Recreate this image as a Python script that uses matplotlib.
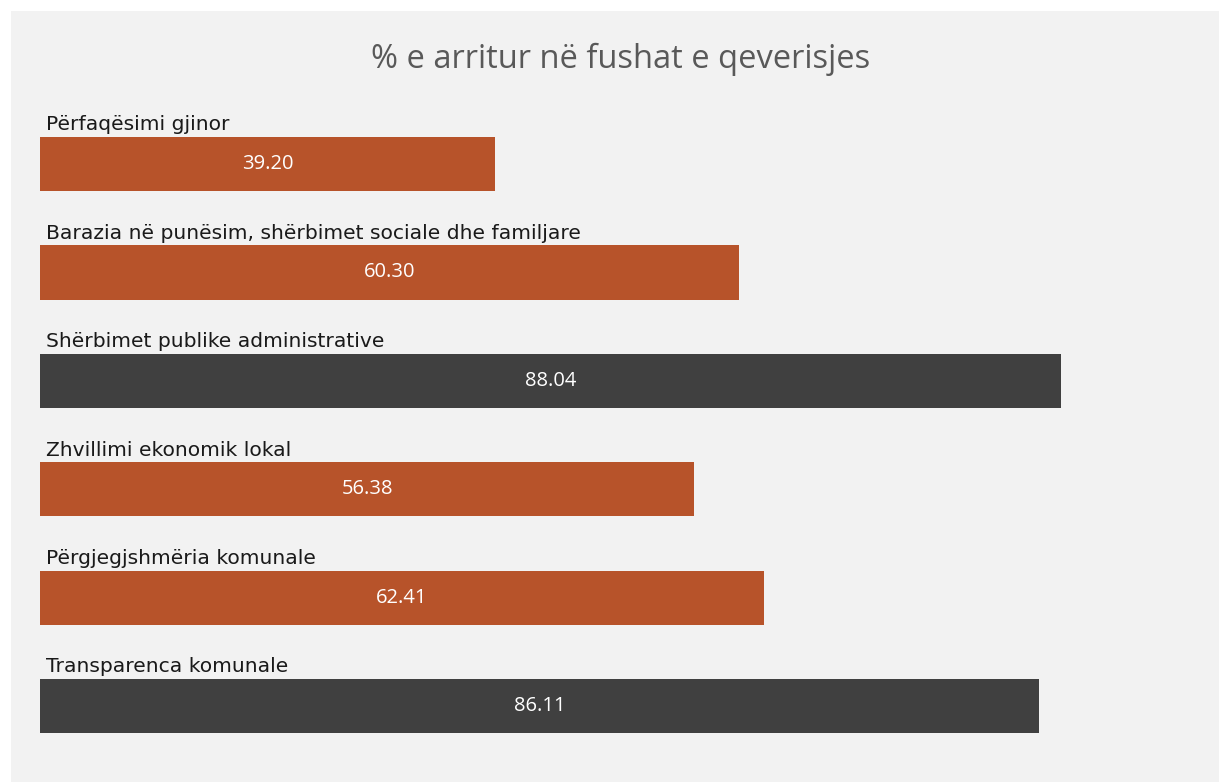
import matplotlib
matplotlib.use("Agg")
import matplotlib.pyplot as plt
from matplotlib.patches import Rectangle

# te dhenat
fushat = ["Përfaqësimi gjinor",
          "Barazia në punësim, shërbimet sociale dhe familjare",
          "Shërbimet publike administrative",
          "Zhvillimi ekonomik lokal",
          "Përgjegjshmëria komunale",
          "Transparenca komunale"]
vlerat = [39.20, 60.30, 88.04, 56.38, 62.41, 86.11]
ngjyrat = ["#b7532a", "#b7532a", "#404040", "#b7532a", "#b7532a", "#404040"]

W, H = 1219, 782
fig = plt.figure(figsize=(W/100, H/100), dpi=100)
fig.patch.set_facecolor("white")
# paneli gri
fig.patches.append(Rectangle((11/W, 0), 1 - 11/W, 1 - 11/H, transform=fig.transFigure,
                             facecolor="#f2f2f2", edgecolor="none", zorder=-5))

ax = fig.add_axes([40/W, (H-760.2)/H, 1160/W, 650.4/H])
ax.set_zorder(2)
ax.set_facecolor("none")
y = list(range(len(vlerat)))
ax.barh(y, vlerat, height=0.5, color=ngjyrat)
ax.set_xlim(0, 100)
ax.set_ylim(5.5, -0.5)
ax.axis("off")

for i, (f, v) in enumerate(zip(fushat, vlerat)):
    ax.text(0.5, i - 0.31, f, ha="left", va="baseline", fontsize=14.6,
            family="DejaVu Sans", color="#1a1a1a")
    ax.text(v/2, i, "%.2f" % v, ha="center", va="center", fontsize=14.5,
            family="Open Sans", color="white")

fig.text(621/W, 1 - 68/H, "% e arritur në fushat e qeverisjes", ha="center",
         va="baseline", fontsize=23.5, family="Open Sans", color="#595959")

fig.savefig("out.png", dpi=100)
